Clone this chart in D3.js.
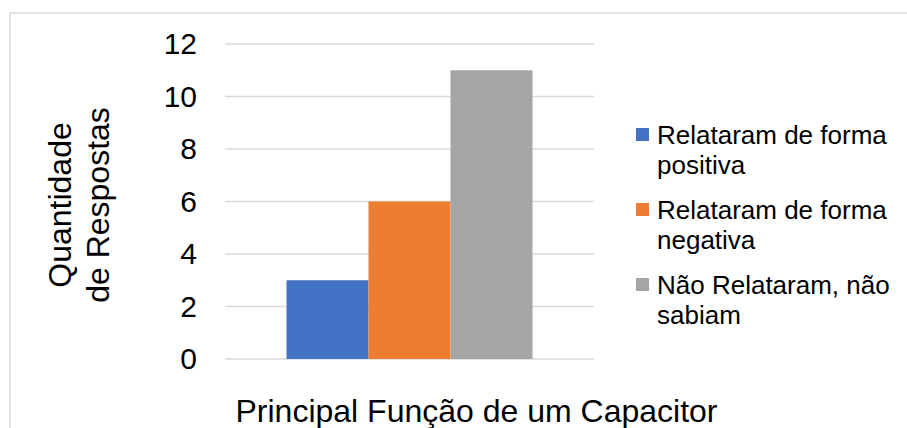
<!DOCTYPE html>
<html>
<head>
<meta charset="utf-8">
<script src="https://cdn.jsdelivr.net/npm/d3@7"></script>
<style>
  body { margin: 0; background: #fff; }
  svg { display: block; font-family: "Liberation Sans", Arial, sans-serif; }
</style>
</head>
<body>
<svg width="907" height="428"></svg>
<script>
// data
const categories = ['Principal Função de um Capacitor'];
const series = ['Relataram de forma positiva', 'Relataram de forma negativa', 'Não Relataram, não sabiam'];
const values = [3, 6, 11];
const yTicks = [0, 2, 4, 6, 8, 10, 12];
const colors = ['#4472C4', '#ED7D31', '#A5A5A5'];
// legend labels split in two lines like the original
const legendLines = [['Relataram de forma', 'positiva'], ['Relataram de forma', 'negativa'], ['Não Relataram, não', 'sabiam']];

const svg = d3.select('svg');

// chart frame
svg.append('rect')
    .attr('x', 10).attr('y', 13)
    .attr('width', 910).attr('height', 430)
    .attr('fill', 'none')
    .attr('stroke', '#d9d9d9')
    .attr('stroke-width', 1.5);

const plot = {left: 225, right: 594, top: 44, bottom: 359};

const y = d3.scaleLinear().domain([0, 12]).range([plot.bottom, plot.top]);
const x0 = d3.scaleBand().domain(categories).range([plot.left, plot.right]).paddingInner(0).paddingOuter(0.25);
const x1 = d3.scaleBand().domain(series).range([0, x0.bandwidth()]);

// gridlines
svg.append('g')
    .selectAll('line')
    .data(yTicks)
    .join('line')
    .attr('x1', plot.left).attr('x2', plot.right)
    .attr('y1', d => y(d)).attr('y2', d => y(d))
    .attr('stroke', '#d9d9d9')
    .attr('stroke-width', 1.5);

// y axis labels
const yAxis = svg.append('g')
    .attr('transform', `translate(${197},0)`)
    .call(d3.axisLeft(y).tickValues(yTicks).tickSize(0).tickPadding(0));
yAxis.select('.domain').remove();
yAxis.selectAll('text')
    .attr('font-size', 30)
    .attr('font-family', '"Liberation Sans", Arial, sans-serif')
    .attr('fill', '#000');

// bars
svg.append('g')
    .selectAll('g')
    .data(categories)
    .join('g')
    .attr('transform', d => `translate(${x0(d)},0)`)
    .selectAll('rect')
    .data(series.map((s, i) => ({s, v: values[i], c: colors[i]})))
    .join('rect')
    .attr('x', d => x1(d.s))
    .attr('width', x1.bandwidth())
    .attr('y', d => y(d.v))
    .attr('height', d => y(0) - y(d.v))
    .attr('fill', d => d.c);

// x axis title (category label)
svg.append('text')
    .attr('x', x0(categories[0]) + x0.bandwidth() / 2 + 67)
    .attr('y', 422)
    .attr('text-anchor', 'middle')
    .attr('font-size', 32)
    .text(categories[0]);

// y axis title
const yTitle = svg.append('text')
    .attr('transform', 'translate(0,205) rotate(-90)')
    .attr('text-anchor', 'middle')
    .attr('font-size', 32);
yTitle.append('tspan').attr('x', 0).attr('y', 71).text('Quantidade');
yTitle.append('tspan').attr('x', 0).attr('y', 109).text('de Respostas');

// legend
const legend = svg.append('g')
    .selectAll('g')
    .data(series)
    .join('g')
    .attr('transform', (d, i) => `translate(636,${144 + i * 75})`);

legend.append('rect')
    .attr('x', 0).attr('y', -16)
    .attr('width', 13).attr('height', 13)
    .attr('fill', (d, i) => colors[i]);

legend.append('text')
    .attr('font-size', 26)
    .selectAll('tspan')
    .data((d, i) => legendLines[i])
    .join('tspan')
    .attr('x', 21)
    .attr('y', (d, j) => j * 30)
    .text(d => d);
</script>
</body>
</html>
